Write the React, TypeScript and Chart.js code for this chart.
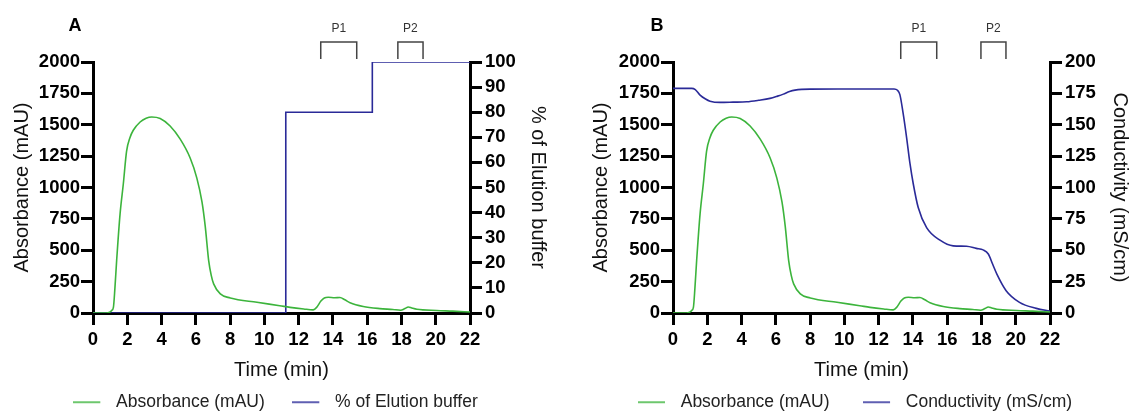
import React, { useEffect, useRef } from 'react';
import { Chart, registerables } from 'chart.js';

Chart.register(...registerables);

const FONT = "Arial, 'Liberation Sans', sans-serif";

// Absorbance (mAU) trace — shared by both panels
const absTime = [0, 0.8, 0.92, 1.02, 1.1, 1.19, 1.28, 1.38, 1.58, 1.77, 1.96, 2.15, 2.35, 2.75, 3.1, 3.43, 3.92, 4.5, 5.09, 5.67, 6.06, 6.36, 6.55, 6.75, 6.9, 7.04, 7.43, 8.01, 9.57, 10.9, 11.5, 12.3, 12.85, 13.05, 13.3, 13.5, 13.73, 14.1, 14.41, 14.7, 15.0, 15.77, 16.74, 17.5, 17.95, 18.2, 18.4, 18.6, 18.9, 20.05, 21.0, 22.0];
const absValues = [0, 0, 3, 10, 22, 45, 200, 418, 790, 1030, 1290, 1395, 1456, 1522, 1552, 1562, 1550, 1490, 1385, 1235, 1075, 885, 690, 418, 300, 232, 152, 120, 85, 58, 45, 32, 25, 45, 95, 120, 125, 122, 123, 105, 82, 52, 35, 28, 22, 35, 48, 40, 30, 20, 15, 8];

// % of Elution buffer (panel A)
const elutionTime = [0, 11.25, 11.25, 16.3, 16.3, 22];
const elutionValues = [0, 0, 80, 80, 100, 100];

// Conductivity (mS/cm) (panel B)
const condTime = [0, 1.09, 1.3, 1.58, 1.9, 2.16, 2.74, 3.5, 4.3, 5.0, 5.66, 6.1, 6.44, 6.8, 7.12, 8.0, 10.0, 12.9, 13.1, 13.24, 13.43, 13.63, 13.83, 14.02, 14.31, 14.8, 15.58, 16.35, 17.13, 17.7, 18.1, 18.4, 18.65, 18.9, 19.44, 20.22, 21.2, 22.0];
const condValues = [179, 179, 178, 173.6, 170.5, 168.8, 167.8, 168, 168.3, 169.5, 171, 172.8, 174.4, 176.5, 177.6, 178.4, 178.5, 178.5, 177.5, 174, 159, 140, 119, 103, 84, 68, 58, 53.5, 53.2, 51.5, 50.3, 47, 39, 31, 17.8, 8.5, 3.7, 1.5];

// Fraction brackets
const peakLabels = ['P1', 'P2'];
const peakStartA = [13.29, 17.79];
const peakEndA = [15.39, 19.26];
const peakStartB = [13.29, 17.97];
const peakEndB = [15.39, 19.43];

const GREEN = '#3cb43c';
const BLUE = '#2a2a98';

const toXY = (xs: number[], ys: number[]) => xs.map((x, i) => ({ x, y: ys[i] }));

function lineImage(color: string) {
  const c = document.createElement('canvas');
  c.width = 34;
  c.height = 4;
  const g = c.getContext('2d')!;
  g.strokeStyle = color;
  g.lineWidth = 1.5;
  g.beginPath();
  g.moveTo(0, 2);
  g.lineTo(27, 2);
  g.stroke();
  return c;
}

function annotPlugin(letter: string, starts: number[], ends: number[], letterDx: number) {
  return {
    id: 'annot' + letter,
    afterDraw(chart: any) {
      const { ctx, chartArea, scales } = chart;
      const top = chartArea.top;
      ctx.save();
      ctx.fillStyle = '#000';
      ctx.font = `bold 18px ${FONT}`;
      ctx.textAlign = 'center';
      ctx.textBaseline = 'middle';
      ctx.fillText(letter, chartArea.left - letterDx, top - 36);
      for (let i = 0; i < starts.length; i++) {
        const x1 = scales.x.getPixelForValue(starts[i]);
        const x2 = scales.x.getPixelForValue(ends[i]);
        ctx.strokeStyle = '#444';
        ctx.lineWidth = 1.5;
        ctx.beginPath();
        ctx.moveTo(x1, top - 3);
        ctx.lineTo(x1, top - 20);
        ctx.lineTo(x2, top - 20);
        ctx.lineTo(x2, top - 3);
        ctx.stroke();
        ctx.fillStyle = '#333';
        ctx.font = `12px ${FONT}`;
        ctx.fillText(peakLabels[i], (x1 + x2) / 2, top - 33);
      }
      ctx.restore();
    },
  };
}

type PanelCfg = {
  rightTitle: string;
  rightMax: number;
  rightStep: number;
  series2Label: string;
  series2: { x: number; y: number }[];
  leftWidth: number;
  rightWidth: number;
  leftTitlePad: number;
  rightTitlePad: number;
  legendPad: number;
  xAxisHeight: number;
  xTitlePad: number;
  letter: string;
  letterDx: number;
  starts: number[];
  ends: number[];
  stepped: boolean;
};

const plain = (v: any) => String(v);

function makeConfig(p: PanelCfg): any {
  const tickFont = { family: FONT, size: 18.5, weight: 'bold' as const };
  const titleFont = { family: FONT, size: 20 };
  const grid = { drawOnChartArea: false, tickLength: 12, lineWidth: 3, color: '#000', tickColor: '#000' };
  const border = { color: '#000', width: 3 };
  const imgs = [lineImage(GREEN), lineImage(BLUE)];
  return {
    type: 'line',
    data: {
      datasets: [
        {
          label: 'Absorbance (mAU)',
          data: toXY(absTime, absValues),
          borderColor: GREEN,
          backgroundColor: GREEN,
          borderWidth: 1.6,
          pointRadius: 0,
          cubicInterpolationMode: 'monotone',
          yAxisID: 'y',
        },
        {
          label: p.series2Label,
          data: p.series2,
          borderColor: BLUE,
          backgroundColor: BLUE,
          borderWidth: 1.6,
          pointRadius: 0,
          tension: 0,
          cubicInterpolationMode: p.stepped ? 'default' : 'monotone',
          yAxisID: 'y2',
        },
      ],
    },
    options: {
      responsive: false,
      animation: false,
      devicePixelRatio: 1,
      layout: { padding: { top: 62, left: 0, right: 0, bottom: 0 } },
      plugins: {
        tooltip: { enabled: false },
        legend: {
          display: true,
          position: 'bottom',
          align: 'center',
          labels: {
            usePointStyle: true,
            pointStyleWidth: 34,
            padding: p.legendPad,
            color: '#222',
            font: { family: FONT, size: 17.5 },
            generateLabels: (chart: any) => {
              const items = Chart.defaults.plugins.legend.labels.generateLabels(chart);
              return items.map((it: any, i: number) => ({ ...it, pointStyle: imgs[i] }));
            },
          },
        },
      },
      scales: {
        x: {
          type: 'linear',
          min: 0,
          max: 22,
          grid,
          border,
          ticks: { stepSize: 2, color: '#000', font: tickFont, padding: 4, maxRotation: 0, autoSkip: false, callback: plain },
          title: { display: true, text: 'Time (min)', color: '#111', font: titleFont, padding: { top: 0, bottom: p.xTitlePad } },
          afterFit: (s: any) => { s.height = p.xAxisHeight; },
        },
        y: {
          type: 'linear',
          position: 'left',
          min: 0,
          max: 2000,
          grid,
          border,
          ticks: { stepSize: 250, color: '#000', font: tickFont, padding: 1, autoSkip: false, callback: plain },
          title: { display: true, text: 'Absorbance (mAU)', color: '#111', font: titleFont, padding: { top: p.leftTitlePad, bottom: 0 } },
          afterFit: (s: any) => { s.width = p.leftWidth; },
        },
        y2: {
          type: 'linear',
          position: 'right',
          min: 0,
          max: p.rightMax,
          grid,
          border,
          ticks: { stepSize: p.rightStep, color: '#000', font: tickFont, padding: 3, autoSkip: false, callback: plain },
          title: { display: true, text: p.rightTitle, color: '#111', font: titleFont, padding: { top: p.rightTitlePad, bottom: 0 } },
          afterFit: (s: any) => { s.width = p.rightWidth; },
        },
      },
    },
    plugins: [annotPlugin(p.letter, p.starts, p.ends, p.letterDx)],
  };
}

export default function App() {
  const refA = useRef<HTMLCanvasElement>(null);
  const refB = useRef<HTMLCanvasElement>(null);

  useEffect(() => {
    const a = new Chart(refA.current!, makeConfig({
      rightTitle: '% of Elution buffer',
      rightMax: 100,
      rightStep: 10,
      series2Label: '% of Elution buffer',
      series2: toXY(elutionTime, elutionValues),
      leftWidth: 93,
      rightWidth: 81,
      leftTitlePad: 10,
      rightTitlePad: 1,
      legendPad: 27.5,
      xAxisHeight: 53,
      xTitlePad: -16,
      letter: 'A',
      letterDx: 18,
      starts: peakStartA,
      ends: peakEndA,
      stepped: true,
    }));
    const b = new Chart(refB.current!, makeConfig({
      rightTitle: 'Conductivity (mS/cm)',
      rightMax: 200,
      rightStep: 25,
      series2Label: 'Conductivity (mS/cm)',
      series2: toXY(condTime, condValues),
      leftWidth: 98,
      rightWidth: 85,
      leftTitlePad: 14,
      rightTitlePad: 3,
      legendPad: 33.5,
      xAxisHeight: 47,
      xTitlePad: -22,
      letter: 'B',
      letterDx: 16,
      starts: peakStartB,
      ends: peakEndB,
      stepped: false,
    }));
    return () => {
      a.destroy();
      b.destroy();
    };
  }, []);

  return (
    <div style={{ position: 'absolute', left: 0, top: 0, width: 1131, height: 412, overflow: 'hidden', background: '#fff' }}>
      <canvas ref={refA} width={551} height={421} style={{ position: 'absolute', left: 0, top: 0, width: 551, height: 421 }} />
      <canvas ref={refB} width={560} height={421} style={{ position: 'absolute', left: 575, top: 0, width: 560, height: 421 }} />
    </div>
  );
}
